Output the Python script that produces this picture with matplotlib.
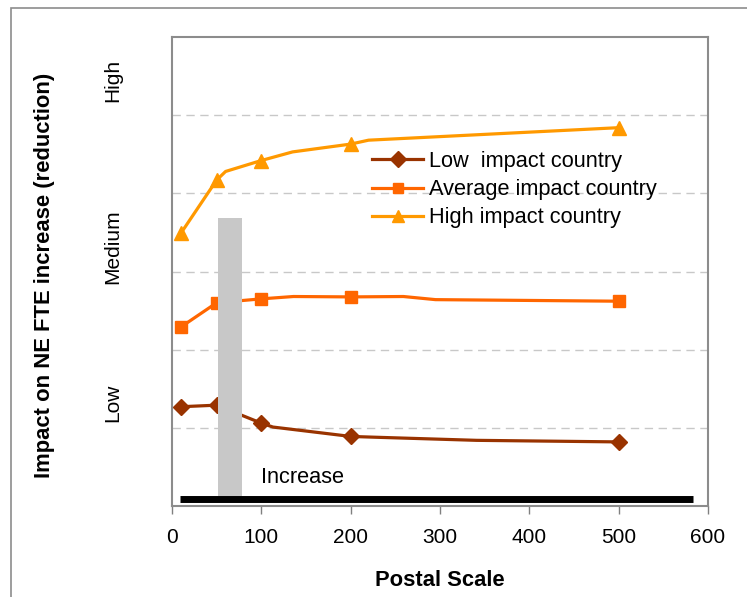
import matplotlib
matplotlib.use("Agg")
import matplotlib.pyplot as plt
from matplotlib.patches import Rectangle

plt.rcParams['font.family'] = ['Liberation Sans', 'DejaVu Sans']

# Postal scale values carrying the markers
postal_scale = [10, 50, 100, 200, 500]

# Traced lines (marker points plus the bends between them)
low_x = [10, 50, 100, 113, 200, 227, 341, 500]
low_y = [1.27, 1.29, 1.06, 1.01, 0.89, 0.88, 0.84, 0.82]
low_marks = [0, 1, 2, 4, 7]

avg_x = [10, 50, 100, 136, 200, 259, 295, 500]
avg_y = [2.29, 2.60, 2.65, 2.68, 2.675, 2.68, 2.64, 2.62]
avg_marks = [0, 1, 2, 4, 7]

high_x = [10, 50, 60, 100, 135, 200, 220, 500]
high_y = [3.49, 4.17, 4.28, 4.42, 4.53, 4.63, 4.68, 4.84]
high_marks = [0, 1, 3, 5, 7]

series_names = ["Low  impact country", "Average impact country", "High impact country"]
series_colors = ["#993300", "#FF6600", "#FF9900"]

level_labels = ["Low", "Medium", "High"]
level_pos = [1.32, 3.32, 5.45]

x_ticks = [0, 100, 200, 300, 400, 500, 600]
grid_levels = [1, 2, 3, 4, 5]

# Threshold band and the "Increase" range bar
band_x = (52, 78)
band_top = 3.69
range_x = (9, 583)
range_y = 0.095

fig = plt.figure(figsize=(7.47, 5.97), dpi=100)
ax = fig.add_axes([172/747, 1-506/597, 536/747, 469/597])

# outer frame of the figure
fig.add_artist(Rectangle((10.5/747, -0.2), 1.5, 1.2 - 8/597,
                         transform=fig.transFigure, fill=False,
                         edgecolor="#8c8c8c", lw=1.2))

ax.set_xlim(0, 600)
ax.set_ylim(0, 6)

for y in grid_levels:
    ax.axhline(y, color="#c8c8c8", lw=1.0, dashes=(6, 4), zorder=1)

markers = ["D", "s", "^"]
msizes = [8.5, 8, 9.5]
lines = []
for xs, ys, mk, name, col, m, ms in zip(
        [low_x, avg_x, high_x], [low_y, avg_y, high_y],
        [low_marks, avg_marks, high_marks], series_names, series_colors,
        markers, msizes):
    ln, = ax.plot(xs, ys, color=col, lw=2.3, marker=m, markersize=ms,
                  markevery=mk, markeredgecolor=col, zorder=3, label=name)
    lines.append(ln)

ax.add_patch(Rectangle((band_x[0], range_y), band_x[1] - band_x[0],
                       band_top - range_y,
                       facecolor="#c8c8c8", edgecolor="none", zorder=4))
ax.plot(range_x, [range_y, range_y], color="black", lw=5,
        solid_capstyle="butt", zorder=5)
ax.text(100, 0.36, "Increase", fontsize=15.7, va="center", ha="left", zorder=6)

ax.set_xticks(x_ticks)
ax.set_xticklabels([str(v) for v in x_ticks], fontsize=15)
ax.tick_params(axis="x", direction="out", length=6, width=1.0,
               color="#808080", pad=10)
ax.set_yticks([])
for s in ax.spines.values():
    s.set_color("#8c8c8c")
    s.set_linewidth(1.5)

for lab, y in zip(level_labels, level_pos):
    ax.text(-0.110, y, lab, transform=ax.get_yaxis_transform(),
            rotation=90, ha="center", va="center", fontsize=15)

fig.text(45/747, 1-275/597, "Impact on NE FTE increase (reduction)",
         rotation=90, ha="center", va="center", fontsize=15.8,
         fontweight="bold")
fig.text(440/747, 1-580/597, "Postal Scale", ha="center", va="center",
         fontsize=15.8, fontweight="bold")

ax.legend(handles=lines, loc="upper left", bbox_to_anchor=(0.373, 0.757),
          frameon=False, fontsize=15.7, handlelength=2.35, handletextpad=0.25,
          labelspacing=0.33, borderpad=0, borderaxespad=0, markerscale=0.9)

fig.savefig("out.png", dpi=100)
